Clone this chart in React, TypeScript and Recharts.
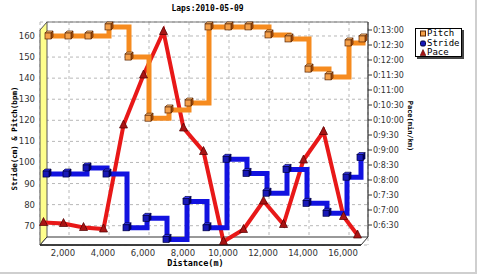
import React from 'react';
import * as R from 'recharts';
import { ComposedChart, Line, XAxis, YAxis, CartesianGrid } from 'recharts';

// lap end distances (m)
const distances = [1000, 2000, 3000, 4000, 5000, 6000, 7000, 8000, 9000, 10000, 11000, 12000, 13000, 14000, 15000, 16000, 16700];
// pitch (bpm)
const pitch = [160, 160, 160, 164.3, 150, 121, 124.9, 128.2, 164.3, 164.3, 164.3, 160.5, 158.6, 144.3, 140.6, 156.7, 158.6];
// stride (cm)
const stride = [94.5, 94.5, 97.4, 94.5, 69, 73.5, 63.5, 81.5, 69, 101.5, 94.8, 85.4, 96.7, 80.6, 75.9, 93, 102.3];
// pace (seconds per km)
const paceSec = [395, 393, 385, 382, 590, 690, 777, 584, 537, 357, 381, 438, 391, 520, 577, 407, 370];

const xTicks = [2000, 4000, 6000, 8000, 10000, 12000, 14000, 16000];
const leftTicks = [70, 80, 90, 100, 110, 120, 130, 140, 150, 160];
const rightTicks = [390, 420, 450, 480, 510, 540, 570, 600, 630, 660, 690, 720, 750, 780];

const seriesNames = ['Pitch', 'Stride', 'Pace'];
const title = 'Laps:2010-05-09';

const data = distances.map((d, i) => ({ d, pitch: pitch[i], stride: stride[i], pace: paceSec[i] }));

const MONO = '"DejaVu Sans Mono", monospace';
const SANS = '"DejaVu Sans", sans-serif';

const COLORS = {
  pitch: '#f68b1f',
  stride: '#1212e0',
  pace: '#e81818',
};

function fmtPace(s: number) {
  const m = Math.floor(s / 60);
  const sec = Math.round(s % 60);
  return `0:${m}:${sec < 10 ? '0' + sec : sec}`;
}

function usePA() {
  const anyR = R as any;
  if (anyR.usePlotArea) return anyR.usePlotArea();
  const off = anyR.useOffset();
  const w = anyR.useChartWidth();
  const h = anyR.useChartHeight();
  if (!off) return null;
  return { x: off.left, y: off.top, width: w - off.left - off.right, height: h - off.top - off.bottom };
}

// 3D wall, floor, frame and axis titles drawn around the plot area
function Frame3D() {
  const pa = usePA();
  if (!pa) return null;
  const { x, y, width, height } = pa;
  const d = 7;
  const b = y + height;
  return (
    <g>
      <line x1={x + d} y1={y} x2={x + width} y2={y} stroke="#777" strokeWidth={1} />
      <line x1={x + width} y1={y} x2={x + width} y2={b - 8} stroke="#333" strokeWidth={1.2} />
      <polygon
        points={`${x},${y + 8} ${x + d},${y} ${x + d},${b - 8} ${x},${b}`}
        fill="#ffff8c"
        stroke="#555"
        strokeWidth={1}
      />
      <polygon
        points={`${x},${b} ${x + d},${b - 8} ${x + width},${b - 8} ${x + width - d},${b}`}
        fill="#fff"
        stroke="#333"
        strokeWidth={1}
      />
      <line x1={x} y1={b} x2={x + width - d} y2={b} stroke="#222" strokeWidth={1.5} />
      <text x={x + d + (width - d) / 2} y={y - 11} textAnchor="middle" fontFamily={MONO} fontWeight="bold" fontSize={8} fill="#000">
        {title}
      </text>
      <text
        transform={`translate(${x - 23},${y + height / 2 + 5}) rotate(-90)`}
        textAnchor="middle"
        fontFamily={MONO}
        fontWeight="bold"
        fontSize={7.5}
        fill="#000"
      >
        Stride(cm) &amp; Pitch(bpm)
      </text>
      <text
        transform={`translate(${x + width + 40},${y + 104}) rotate(90)`}
        textAnchor="middle"
        fontFamily={MONO}
        fontWeight="bold"
        fontSize={7}
        fill="#000"
      >
        Pace(min/km)
      </text>
      <text x={x + d + (width - d) / 2 - 12} y={b + 21} textAnchor="middle" fontFamily={MONO} fontWeight="bold" fontSize={8.5} fill="#000">
        Distance(m)
      </text>
    </g>
  );
}

function Cube({ cx, cy, face, top, side, edge }: any) {
  if (cx == null || cy == null) return null;
  return (
    <g>
      <polygon points={`${cx - 4},${cy - 3} ${cx - 2},${cy - 5} ${cx + 4},${cy - 5} ${cx + 2},${cy - 3}`} fill={top} stroke={edge} strokeWidth={0.7} />
      <polygon points={`${cx + 2},${cy - 3} ${cx + 4},${cy - 5} ${cx + 4},${cy + 1} ${cx + 2},${cy + 3}`} fill={side} stroke={edge} strokeWidth={0.7} />
      <rect x={cx - 4} y={cy - 3} width={6} height={6} fill={face} stroke={edge} strokeWidth={0.7} />
    </g>
  );
}

const pitchDot = (p: any) => <Cube key={`p${p.index}`} cx={p.cx} cy={p.cy} face="#f4a04a" top="#ffc27a" side="#b85a10" edge="#5a2400" />;
const strideDot = (p: any) => <Cube key={`s${p.index}`} cx={p.cx} cy={p.cy} face="#1818b8" top="#3a3aff" side="#000070" edge="#000040" />;
const paceDot = (p: any) => {
  if (p.cx == null || p.cy == null) return <g key={`r${p.index}`} />;
  const { cx, cy } = p;
  return (
    <polygon
      key={`r${p.index}`}
      points={`${cx},${cy - 5} ${cx + 4},${cy + 3} ${cx - 4},${cy + 3}`}
      fill="#a81414"
      stroke="#500000"
      strokeWidth={0.7}
    />
  );
};

const LeftTick = ({ x, y, payload }: any) => (
  <text x={x} y={y + 3} textAnchor="end" fontFamily={SANS} fontSize={8.5} fill="#333">
    {payload.value}
  </text>
);

const RightTick = ({ x, y, payload }: any) => (
  <text x={x} y={y + 3} textAnchor="start" fontFamily={SANS} fontSize={8} fill="#333">
    {fmtPace(payload.value)}
  </text>
);

function LegendBox() {
  const icons = [
    <svg width={6} height={7} key="a"><rect x={0.5} y={1} width={5} height={5} fill="#f4a04a" stroke="#5a2400" /></svg>,
    <svg width={6} height={7} key="b"><rect x={0.5} y={1} width={5} height={5} rx={1.5} fill="#1818b8" stroke="#000040" /></svg>,
    <svg width={6} height={7} key="c"><polygon points="3,0.5 5.8,6.5 0.2,6.5" fill="#a81414" stroke="#500000" strokeWidth={0.6} /></svg>,
  ];
  return (
    <div
      style={{
        position: 'absolute',
        left: 415,
        top: 28,
        width: 47,
        height: 29,
        background: '#fff',
        border: '1px solid #000',
        boxShadow: '2px 2px 0 #444',
        padding: '0 0 0 4px',
        boxSizing: 'border-box',
        fontFamily: MONO,
        fontSize: 9,
        lineHeight: '9.5px',
        color: '#000',
      }}
    >
      {seriesNames.map((n, i) => (
        <div key={n} style={{ display: 'flex', alignItems: 'center', gap: 1 }}>
          {icons[i]}
          <span>{n}</span>
        </div>
      ))}
    </div>
  );
}

export default function App() {
  return (
    <div style={{ position: 'absolute', left: 0, top: 0, width: 480, height: 275, background: '#fff' }}>
      <div
        style={{
          position: 'absolute',
          left: 0,
          top: 0,
          width: 475,
          height: 272,
          borderRight: '2px solid #cfcfcf',
          borderBottom: '2px solid #cfcfcf',
        }}
      />
      <ComposedChart
        width={480}
        height={275}
        data={data}
        margin={{ top: 22, right: 67, bottom: 5, left: 0 }}
        style={{ position: 'absolute', left: 0, top: 0 }}
      >
        <CartesianGrid xAxisId="a_back" yAxisId="left" stroke="#b8b8b8" strokeDasharray="3 3" />
        <XAxis
          xAxisId="a_back"
          dataKey="d"
          type="number"
          domain={[550, 16950]}
          ticks={xTicks}
          interval={0}
          axisLine={false}
          tickLine={false}
          height={25}
          tickSize={0}
          tickMargin={5}
          tick={{ dx: -6, fontFamily: SANS, fontSize: 8.5, fill: '#333' }}
          tickFormatter={(v: number) => v.toLocaleString('en-US')}
        />
        <XAxis xAxisId="b_mid" dataKey="d" type="number" domain={[650, 17050]} height={0} hide />
        <XAxis xAxisId="c_front" dataKey="d" type="number" domain={[825, 17225]} height={0} hide />
        <YAxis
          yAxisId="left"
          type="number"
          domain={[60.84, 166.64]}
          ticks={leftTicks}
          interval={0}
          width={40}
          axisLine={false}
          tickLine={false}
          tickSize={0}
          tickMargin={5}
          tick={LeftTick}
        />
        <YAxis
          yAxisId="right"
          orientation="right"
          type="number"
          domain={[350, 796]}
          ticks={rightTicks}
          interval={0}
          width={45}
          axisLine={false}
          tickLine={{ stroke: '#333' }}
          tickSize={4}
          tickMargin={1}
          tick={RightTick}
        />
        <Frame3D />
        <Line
          xAxisId="c_front"
          yAxisId="right"
          dataKey="pace"
          name={seriesNames[2]}
          type="linear"
          stroke={COLORS.pace}
          strokeWidth={4}
          dot={paceDot}
          activeDot={false}
          isAnimationActive={false}
        />
        <Line
          xAxisId="b_mid"
          yAxisId="left"
          dataKey="stride"
          name={seriesNames[1]}
          type="stepAfter"
          stroke={COLORS.stride}
          strokeWidth={5}
          dot={strideDot}
          activeDot={false}
          isAnimationActive={false}
        />
        <Line
          xAxisId="a_back"
          yAxisId="left"
          dataKey="pitch"
          name={seriesNames[0]}
          type="stepAfter"
          stroke={COLORS.pitch}
          strokeWidth={5}
          dot={pitchDot}
          activeDot={false}
          isAnimationActive={false}
        />
      </ComposedChart>
      <LegendBox />
    </div>
  );
}
